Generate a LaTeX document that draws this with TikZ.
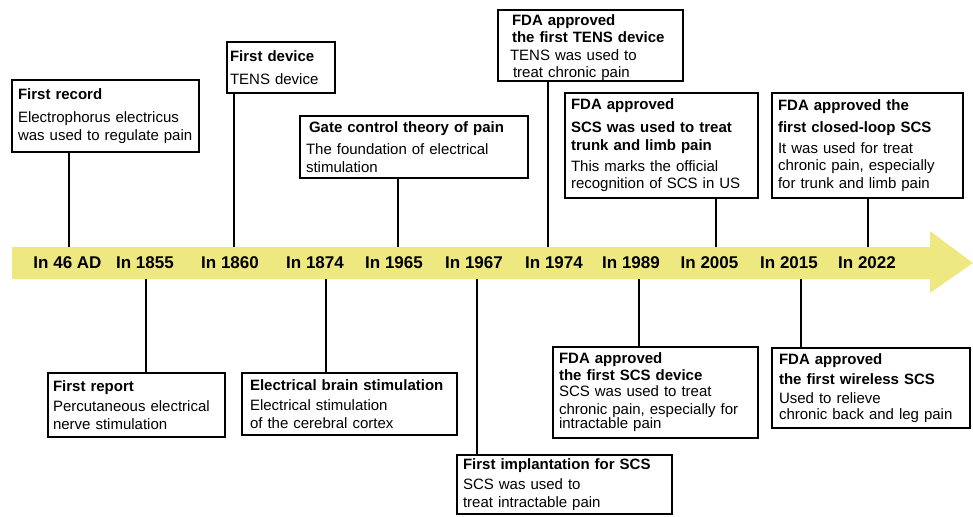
\documentclass[tikz,border=0pt]{standalone}
\usepackage{fontspec}
\setmainfont{Liberation Sans}
\definecolor{bandyellow}{RGB}{238,232,128}
\begin{document}
\begin{tikzpicture}[x=1pt,y=-1pt,
  box/.style={draw, line width=1.6pt, anchor=north west, outer sep=0pt,
    inner xsep=6pt, inner ysep=0pt, align=left,
    font=\fontsize{15}{17.5}\selectfont},
  year/.style={font=\fontsize{17}{20}\selectfont\bfseries, inner sep=0pt},
  link/.style={line width=2.2pt}]
\useasboundingbox (0,0) rectangle (973,516);
% timeline band
\fill[bandyellow] (12,247) -- (930,247) -- (930,231) -- (973,263) -- (930,293) -- (930,279) -- (12,279) -- cycle;
% years
\node[year] (y1)  at (67.5,263) {In 46 AD};
\node[year] (y2)  at (145,263) {In 1855};
\node[year] (y3)  at (230,263) {In 1860};
\node[year] (y4)  at (315,263) {In 1874};
\node[year] (y5)  at (394,263) {In 1965};
\node[year] (y6)  at (474,263) {In 1967};
\node[year] (y7)  at (554,263) {In 1974};
\node[year] (y8)  at (631,263) {In 1989};
\node[year] (y9)  at (709.5,263) {In 2005};
\node[year] (y10) at (789,263) {In 2015};
\node[year] (y11) at (867,263) {In 2022};
% attachment points on the band
\coordinate (a1)  at (69,247);
\coordinate (a2)  at (146,279);
\coordinate (a3)  at (234,247);
\coordinate (a4)  at (326,279);
\coordinate (a5)  at (398,247);
\coordinate (a6)  at (477,279);
\coordinate (a7)  at (548,247);
\coordinate (a8)  at (639,279);
\coordinate (a9)  at (716,247);
\coordinate (a10) at (801,279);
\coordinate (a11) at (868,247);
% boxes above
\node[box, text width=175pt, minimum height=72pt] (b1) at (12,80)
  {\textbf{First record}\\[6pt]Electrophorus electricus\\was used to regulate pain};
\node[box, inner xsep=3pt, text width=102pt, minimum height=51pt] (b3) at (227,42)
  {\textbf{First device}\\[6pt]TENS device};
\node[box, inner xsep=6pt, text width=216pt, minimum height=62pt] (b5) at (300,116)
  {\hspace*{3pt}\textbf{Gate control theory of pain}\\[5pt]The foundation of electrical\\stimulation};
\node[box, inner xsep=14pt, text width=157pt, minimum height=70pt,
  font=\fontsize{15}{17}\selectfont] (b7) at (498,10)
  {\rule{0pt}{16pt}\textbf{FDA approved}\\\textbf{the first TENS device}\\[1pt]\hspace*{-2pt}TENS was used to\\\hspace*{1pt}treat chronic pain};
\node[box, text width=181pt, minimum height=105pt] (b9) at (565,93)
  {\textbf{FDA approved}\\[5pt]\textbf{SCS was used to treat}\\[1pt]\textbf{trunk and limb pain}\\[3pt]This marks the official\\recognition of SCS in US};
\node[box, text width=179pt, minimum height=105pt] (b11) at (772,93)
  {\textbf{FDA approved the}\\[5pt]\textbf{first closed-loop SCS}\\[3pt]It was used for treat\\chronic pain, especially\\for trunk and limb pain};
% boxes below
\node[box, inner xsep=5pt, text width=167pt, minimum height=64pt] (b2) at (48,373)
  {\textbf{First report}\\[3pt]Percutaneous electrical\\nerve stimulation};
\node[box, inner xsep=8pt, text width=199pt, minimum height=62pt] (b4) at (242,373)
  {\textbf{Electrical brain stimulation}\\[3pt]Electrical stimulation\\of the cerebral cortex};
\node[box, inner xsep=6pt, text width=203pt, minimum height=59pt] (b6) at (457,455)
  {\textbf{First implantation for SCS}\\[3pt]SCS was used to\\treat intractable pain};
\node[box, inner xsep=6pt, text width=193pt, minimum height=91pt,
  font=\fontsize{15}{16.5}\selectfont] (b8) at (553,347)
  {\textbf{FDA approved}\\\textbf{the first SCS device}\\SCS was used to treat\\[1pt]chronic pain, especially for\\[-2pt]intractable pain};
\node[box, inner xsep=7pt, text width=184pt, minimum height=80pt] (b10) at (772,348)
  {\textbf{FDA approved}\\[2pt]\textbf{the first wireless SCS}\\[2pt]Used to relieve\\[-2pt]chronic back and leg pain};
% connectors
\draw[link] (b1.south -| a1) -- (a1);
\draw[link] (b3.south -| a3) -- (a3);
\draw[link] (b5.south -| a5) -- (a5);
\draw[link] (b7.south -| a7) -- (a7);
\draw[link] (b9.south -| a9) -- (a9);
\draw[link] (b11.south -| a11) -- (a11);
\draw[link] (a2) -- (b2.north -| a2);
\draw[link] (a4) -- (b4.north -| a4);
\draw[link] (a6) -- (b6.north -| a6);
\draw[link] (a8) -- (b8.north -| a8);
\draw[link] (a10) -- (b10.north -| a10);
\end{tikzpicture}
\end{document}
